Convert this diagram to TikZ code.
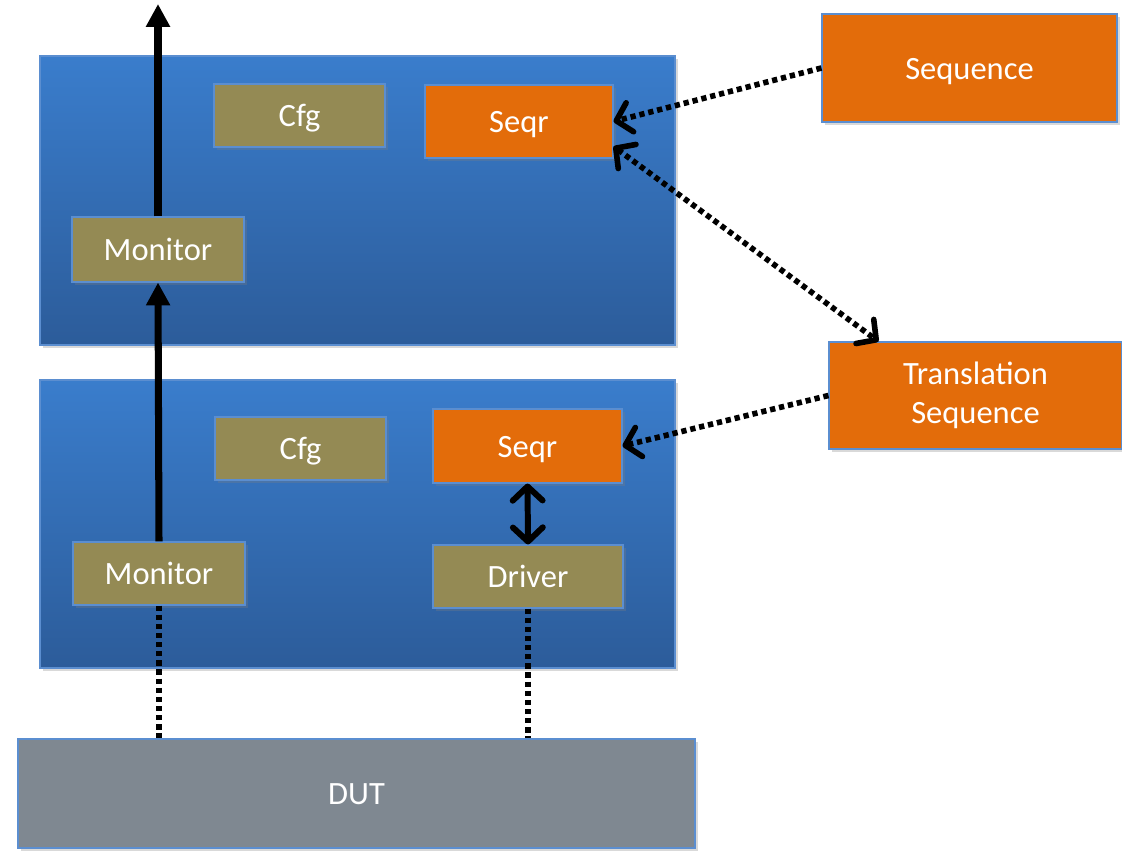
\documentclass[tikz,border=0pt]{standalone}
\usepackage{fontspec}
\setmainfont{Carlito}
\usetikzlibrary{arrows.meta,shadows}
\definecolor{agentTop}{HTML}{3A7DCC}
\definecolor{agentBot}{HTML}{2C5C9A}
\definecolor{edgeBlue}{HTML}{5B8ED0}
\definecolor{olive}{HTML}{948A54}
\definecolor{seqOrange}{HTML}{E36C0A}
\definecolor{dutGray}{HTML}{7F8891}
\tikzset{
  soft shadow/.style={
    drop shadow={opacity=0.3, shadow xshift=0.05cm, shadow yshift=-0.06cm}
  },
  one line/.style={text height=13pt, text depth=0.4pt},
  agent box/.style={
    rectangle, draw=edgeBlue, line width=0.8pt, top color=agentTop, bottom color=agentBot,
    soft shadow, inner sep=0pt
  },
  comp box/.style={
    rectangle, draw=edgeBlue, line width=0.6pt, fill=olive, soft shadow, one line,
    text=white, font=\fontsize{18.5}{22}\selectfont, inner sep=0pt, minimum height=1.26cm
  },
  orange box/.style={
    rectangle, draw=edgeBlue, line width=0.6pt, fill=seqOrange, soft shadow,
    text=white, font=\fontsize{18.5}{22}\selectfont, inner sep=0pt, align=center
  },
  seq box/.style={orange box, one line},
  dut box/.style={
    rectangle, draw=edgeBlue, line width=0.8pt, fill=dutGray, soft shadow, one line,
    text=white, font=\fontsize{18.5}{22}\selectfont, inner sep=0pt
  },
  data flow/.style={
    line width=4pt, -{Triangle[length=13pt,width=13pt]}
  },
  seq link/.style={
    line width=3.2pt, dash pattern=on 3pt off 2.2pt
  },
  barb/.tip={Straight Barb[length=8pt,width=17pt,round]}
}

\begin{document}
\begin{tikzpicture}
\useasboundingbox (0,0) rectangle (22.44,17);

% agents
\node[agent box, minimum width=12.7cm, minimum height=5.78cm] (agentA) at (7.15,12.99) {};
\node[agent box, minimum width=12.7cm, minimum height=5.76cm] (agentB) at (7.15,6.52) {};

% upper agent
\node[comp box, minimum width=3.42cm]                     (cfgA)  at ( 5.99,14.69) {Cfg};
\node[seq box,  minimum width=3.76cm, minimum height=1.46cm] (seqrA) at (10.38,14.57) {Seqr};
\node[comp box, minimum width=3.44cm, minimum height=1.30cm] (monA)  at ( 3.16,12.01) {Monitor};

% lower agent
\node[comp box, minimum width=3.42cm]                     (cfgB)  at ( 6.01, 8.03) {Cfg};
\node[seq box,  minimum width=3.78cm, minimum height=1.48cm] (seqrB) at (10.55, 8.08) {Seqr};
\node[comp box, minimum width=3.44cm]                     (monB)  at ( 3.18, 5.53) {Monitor};
\node[comp box, minimum width=3.80cm]                     (drv)   at (10.56, 5.47) {Driver};

% DUT and sequences
\node[dut box, minimum width=13.54cm, minimum height=2.18cm] (dut) at (7.13,1.13) {DUT};
\node[seq box, minimum width=5.90cm, minimum height=2.16cm] (seq)  at (19.39,15.64) {Sequence};
\node[orange box, minimum width=5.86cm, minimum height=2.14cm] (tseq) at (19.51, 9.09) {Translation\\Sequence};

\coordinate (out) at (3.16,16.92);

% monitor path
\draw[data flow] (monA.north) -- (out);
\draw[data flow] (monB.north) -- (monA.south);

% sequencer / driver
\draw[line width=3.4pt, barb-barb] (seqrB.south) -- (drv.north);

% sequences to sequencers
\draw[seq link, -barb] (seq.west) -- (seqrA.east);
\draw[seq link, barb-barb] ([yshift=-0.5cm]seqrA.east) -- ([xshift=1cm]tseq.north west);
\draw[seq link, -barb] (tseq.west) -- (seqrB.east);

% pins to the DUT
\draw[seq link] (monB.south) -- (monB.south |- dut.north);
\draw[seq link] (drv.south) -- (drv.south |- dut.north);

\end{tikzpicture}
\end{document}
